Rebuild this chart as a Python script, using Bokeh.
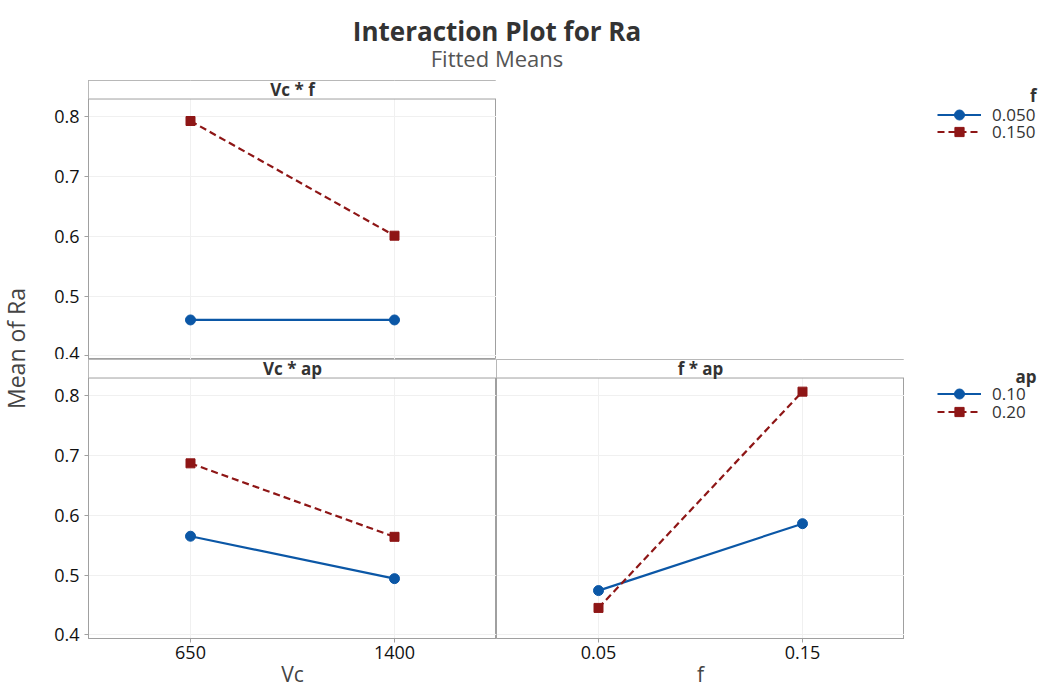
import math
from bokeh.plotting import figure
from bokeh.models import Range1d, FixedTicker, Span, BoxAnnotation, Legend, LegendItem, Label
from bokeh.layouts import row, column
from bokeh.embed import file_html
from bokeh.resources import INLINE
from bokeh.core.properties import value

# ---------------- data ----------------
vc_levels = [650, 1400]
f_levels = [0.05, 0.15]
y_ticks = [0.4, 0.5, 0.6, 0.7, 0.8]

vcf_f050 = [0.460, 0.460]
vcf_f150 = [0.793, 0.601]
vcap_ap010 = [0.565, 0.494]
vcap_ap020 = [0.687, 0.564]
fap_ap010 = [0.474, 0.586]
fap_ap020 = [0.445, 0.807]

f_legend_labels = ["0.050", "0.150"]
ap_legend_labels = ["0.10", "0.20"]
vc_tick_labels = ["650", "1400"]
f_tick_labels = ["0.05", "0.15"]

# ---------------- style ----------------
FONT = "Open Sans"
BLUE = "#0b57a6"
RED = "#8e1616"
FRAME = "#a0a0a0"
GRID = "#f0f0f0"
TXT = "#333333"

Y_LO, Y_HI, STRIP = 0.3938, 0.8608, 0.8298
VC_RANGE = (275, 1775)
F_RANGE = (0.0, 0.2)

STYLES = [(BLUE, "solid", "circle", 10), (RED, "7 4", "square", 9)]

FRAME_H = 279
HEAD_H = 74
TOP_BORDER = 6
BOT_BORDER = 55


def base_fig(width, height, xr, yr, **kw):
    p = figure(width=width, height=height, x_range=Range1d(*xr), y_range=Range1d(*yr),
               output_backend="svg", toolbar_location=None, **kw)
    p.background_fill_color = "white"
    p.border_fill_color = "white"
    return p


def make_panel(x_levels, x_rng, tick_labels, series, strip_text, width, height,
               left_axis, bottom_axis, top_border, xlabel=None):
    p = base_fig(width, height, x_rng, (Y_LO, Y_HI),
                 x_axis_location="below" if bottom_axis else None,
                 y_axis_location="left" if left_axis else None,
                 min_border_left=40 if left_axis else 0, min_border_right=0,
                 min_border_top=top_border,
                 min_border_bottom=BOT_BORDER if bottom_axis else 0)
    p.outline_line_color = FRAME
    p.outline_line_width = 1
    p.xgrid.ticker = FixedTicker(ticks=x_levels)
    p.ygrid.ticker = FixedTicker(ticks=y_ticks)
    p.grid.grid_line_color = GRID
    p.grid.grid_line_width = 1
    if left_axis:
        ax = p.yaxis[0]
        ax.ticker = FixedTicker(ticks=y_ticks)
        ax.axis_line_color = FRAME
        ax.major_tick_line_color = FRAME
        ax.major_tick_out = 4
        ax.major_tick_in = 0
        ax.minor_tick_line_color = None
        ax.major_label_text_font = FONT
        ax.major_label_text_font_size = "18px"
        ax.major_label_text_color = "#111111"
        ax.major_label_standoff = 5
    if bottom_axis:
        ax = p.xaxis[0]
        ax.ticker = FixedTicker(ticks=x_levels)
        ax.major_label_overrides = {lv: lb for lv, lb in zip(x_levels, tick_labels)}
        ax.axis_line_color = FRAME
        ax.major_tick_line_color = FRAME
        ax.major_tick_out = 4
        ax.major_tick_in = 0
        ax.minor_tick_line_color = None
        ax.major_label_text_font = FONT
        ax.major_label_text_font_size = "18px"
        ax.major_label_text_color = "#111111"
        ax.major_label_standoff = 3
        ax.axis_label = xlabel
        ax.axis_label_text_font = FONT
        ax.axis_label_text_font_size = "21px"
        ax.axis_label_text_font_style = "normal"
        ax.axis_label_text_color = "#444444"
        ax.axis_label_standoff = -2

    for vals, (c, dash, marker, msize) in zip(series, STYLES):
        p.line(x_levels, vals, line_color=c, line_width=2.2, line_dash=dash)
        p.scatter(x_levels, vals, marker=marker, size=msize, fill_color=c, line_color=c)

    # strip header
    p.add_layout(BoxAnnotation(bottom=STRIP, fill_color="white", fill_alpha=1.0,
                               line_color=None))
    p.add_layout(Span(location=STRIP, dimension="width", line_color=FRAME, line_width=1))
    xmid = (x_rng[0] + x_rng[1]) / 2
    p.add_layout(Label(x=xmid, y=(STRIP + Y_HI) / 2, text=strip_text, text_align="center",
                       text_baseline="middle", text_font=FONT,
                       text_font_size="17px", text_font_style="bold", text_color=TXT))
    return p


def make_legend_fig(width, height, top_border, bottom_border, x_levels, series, labels,
                    title, gx, centers_from_bottom, title_xy):
    p = base_fig(width, height, (0, 1), (0, 1),
                 x_axis_location=None, y_axis_location=None,
                 min_border_left=0, min_border_right=0,
                 min_border_top=top_border, min_border_bottom=bottom_border)
    p.grid.visible = False
    p.outline_line_color = None
    for vals, lab, (c, dash, marker, msize), yc in zip(series, labels, STYLES, centers_from_bottom):
        lr = p.line(x_levels, vals, line_color=c, line_width=2.2, line_dash=dash, visible=False)
        sr = p.scatter(x_levels, vals, marker=marker, fill_color=c, line_color=c, visible=False)
        gh = 25 if marker == "circle" else 23
        leg = Legend(items=[LegendItem(label=lab, renderers=[lr, sr])],
                     location=(gx, int(round(yc - gh / 2))),
                     glyph_width=44, glyph_height=gh, label_height=18,
                     label_standoff=11, padding=0, margin=0, spacing=0,
                     border_line_color=None, background_fill_alpha=0,
                     label_text_font=FONT, label_text_font_size="17px",
                     label_text_color=TXT)
        p.add_layout(leg)
    p.add_layout(Label(x=title_xy[0], y=title_xy[1], x_units="screen", y_units="screen",
                       text=title, text_align="right", text_baseline="middle",
                       text_font=FONT, text_font_size="17px", text_font_style="bold",
                       text_color=TXT))
    return p


# ---------------- figures ----------------
W_TOTAL = 1040
H_TOTAL = 693
YLAB_W = 48
RIGHT_W = W_TOTAL - YLAB_W   # 992

ylab = base_fig(YLAB_W, H_TOTAL, (0, YLAB_W), (H_TOTAL, 0),
                x_axis_location=None, y_axis_location=None, min_border=0)
ylab.grid.visible = False
ylab.outline_line_color = None
ylab.text(x=[15], y=[348], text=["Mean of Ra"], angle=math.pi / 2, text_align="center",
          text_baseline="alphabetic", text_font=value(FONT), text_font_size="23px",
          text_color="#444444")

header = base_fig(RIGHT_W, HEAD_H, (0, RIGHT_W), (HEAD_H, 0),
                  x_axis_location=None, y_axis_location=None, min_border=0)
header.grid.visible = False
header.outline_line_color = None
header.text(x=[448.5], y=[30.7], text=["Interaction Plot for Ra"], text_align="center",
            text_baseline="alphabetic", text_font=value(FONT), text_font_size="26px",
            text_font_style="bold", text_color="#333333")
header.text(x=[448.5], y=[57.3], text=["Fitted Means"], text_align="center",
            text_baseline="alphabetic", text_font=value(FONT), text_font_size="22px",
            text_color="#555555")

TOP_FIG_H = FRAME_H + TOP_BORDER
BOT_FIG_H = H_TOTAL - HEAD_H - TOP_FIG_H   # 334

p_vcf = make_panel(vc_levels, VC_RANGE, vc_tick_labels, [vcf_f050, vcf_f150], "Vc * f",
                   448, TOP_FIG_H, True, False, TOP_BORDER)
leg_a = make_legend_fig(RIGHT_W - 448, TOP_FIG_H, TOP_BORDER, 0, vc_levels,
                        [vcf_f050, vcf_f150], f_legend_labels, "f", 441,
                        [359 - 114, 359 - 132], (540, 359 - 95))

p_vcap = make_panel(vc_levels, VC_RANGE, vc_tick_labels, [vcap_ap010, vcap_ap020], "Vc * ap",
                    448, BOT_FIG_H, True, True, 0, xlabel="Vc")
p_fap = make_panel(f_levels, F_RANGE, f_tick_labels, [fap_ap010, fap_ap020], "f * ap",
                   408, BOT_FIG_H, False, True, 0, xlabel="f")
leg_b = make_legend_fig(RIGHT_W - 448 - 408, BOT_FIG_H, 0, BOT_BORDER, f_levels,
                        [fap_ap010, fap_ap020], ap_legend_labels, "ap", 33,
                        [638 - 394, 638 - 411.5], (132, 638 - 376))

layout = row(ylab, column(header, row(p_vcf, leg_a), row(p_vcap, p_fap, leg_b)))

open("out.html", "w").write(file_html(layout, INLINE))
